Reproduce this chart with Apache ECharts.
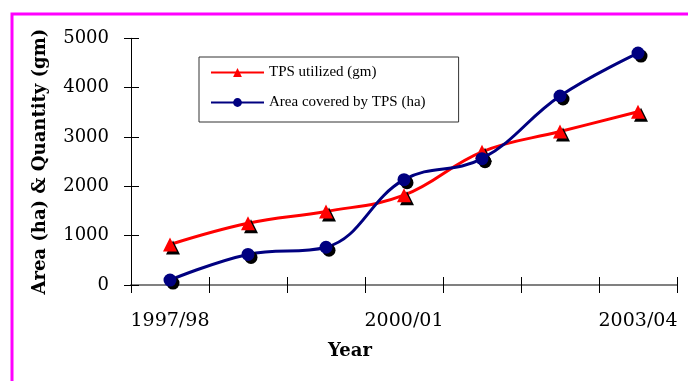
<!DOCTYPE html>
<html>
<head>
<meta charset="utf-8">
<script src="https://cdn.jsdelivr.net/npm/echarts@6/dist/echarts.min.js"></script>
<style>html,body{margin:0;padding:0;background:#fff}#c{width:688px;height:381px}</style>
</head>
<body>
<div id="c"></div>
<script>
var categories = ['1997/98','1998/99','1999/00','2000/01','2001/02','2002/03','2003/04'];
var tpsUtilized = [820, 1250, 1490, 1820, 2700, 3110, 3510];
var areaCovered = [100, 620, 765, 2135, 2560, 3830, 4700];
var yTicks = [0, 1000, 2000, 3000, 4000, 5000];
var seriesNames = ['TPS utilized (gm)', 'Area covered by TPS (ha)'];

var chart = echarts.init(document.getElementById('c'));
var serif = 'DejaVu Serif';
var shadow = {shadowColor:'#000', shadowBlur:0, shadowOffsetX:3, shadowOffsetY:3};
chart.setOption({
  animation: false,
  backgroundColor: '#fff',
  graphic: [{
    type: 'rect', silent: true, z: 100,
    shape: {x: 12, y: 14, width: 800, height: 500},
    style: {fill: 'none', stroke: '#ff00ff', lineWidth: 3}
  }],
  grid: {left: 131, right: 11, top: 38.3, bottom: 96, containLabel: false},
  legend: {
    orient: 'vertical', left: 199, top: 57,
    data: seriesNames,
    backgroundColor: '#fff', borderColor: '#333', borderWidth: 1,
    padding: [8, 33, 12, 11], itemGap: 15,
    itemWidth: 53, itemHeight: 11,
    textStyle: {fontFamily: 'Liberation Serif', fontSize: 15, color: '#000'}
  },
  xAxis: [{
    type: 'category', data: categories, boundaryGap: true,
    name: 'Year', nameLocation: 'middle', nameGap: 57,
    nameTextStyle: {fontFamily: serif, fontSize: 18, fontWeight: 'bold', color: '#000', padding: [0, 108, 0, 0]},
    axisLine: {lineStyle: {color: '#808080', width: 2}},
    axisTick: {show: true, interval: 0, length: 8, lineStyle: {color: '#000', width: 1}},
    axisLabel: {interval: 2, margin: 27, fontFamily: serif, fontSize: 19, color: '#000'},
    splitLine: {show: false}
  }, {
    type: 'category', data: categories, boundaryGap: true, position: 'bottom',
    axisLine: {show: false},
    axisTick: {show: true, inside: true, interval: 0, length: 8, lineStyle: {color: '#000', width: 1}},
    axisLabel: {show: false}, splitLine: {show: false}
  }],
  yAxis: [{
    type: 'value', min: yTicks[0], max: yTicks[yTicks.length-1], interval: 1000,
    name: 'Area (ha) & Quantity (gm)', nameLocation: 'middle', nameGap: 82, nameRotate: 90,
    nameTextStyle: {fontFamily: serif, fontSize: 18, fontWeight: 'bold', color: '#000'},
    axisLine: {show: true, lineStyle: {color: '#000', width: 1}},
    axisTick: {show: true, length: 7, lineStyle: {color: '#000', width: 1}},
    axisLabel: {margin: 22, fontFamily: serif, fontSize: 18, color: '#000',
      formatter: function (v) { return String(v); }},
    splitLine: {show: false}
  }, {
    type: 'value', min: yTicks[0], max: yTicks[yTicks.length-1], interval: 1000, position: 'left',
    axisLine: {show: false},
    axisTick: {show: true, inside: true, length: 8, lineStyle: {color: '#000', width: 1}},
    axisLabel: {show: false}, splitLine: {show: false}
  }],
  series: [{
    name: seriesNames[0], type: 'line', data: tpsUtilized, smooth: 0.4,
    symbol: 'triangle', symbolSize: 14, z: 3,
    lineStyle: {color: '#ff0000', width: 3},
    itemStyle: Object.assign({color: '#ff0000'}, shadow)
  }, {
    name: seriesNames[1], type: 'line', data: areaCovered, smooth: 0.4,
    symbol: 'circle', symbolSize: 13, z: 4,
    lineStyle: {color: '#000080', width: 3},
    itemStyle: Object.assign({color: '#000080'}, shadow)
  }]
});
</script>
</body>
</html>
